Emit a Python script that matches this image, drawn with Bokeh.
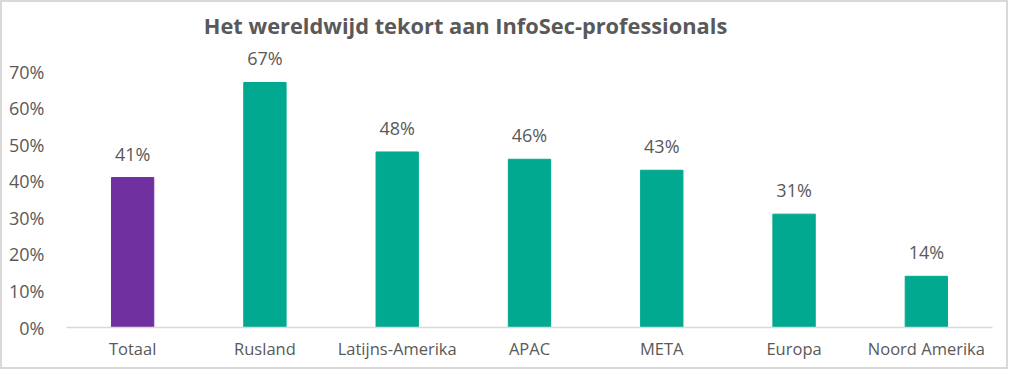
from bokeh.plotting import figure
from bokeh.models import Range1d, FixedTicker, NumeralTickFormatter, ColumnDataSource
from bokeh.core.properties import value
from bokeh.embed import file_html
from bokeh.resources import INLINE

title_text = "Het wereldwijd tekort aan InfoSec-professionals"
categories = ["Totaal", "Rusland", "Latijns-Amerika", "APAC", "META", "Europa", "Noord Amerika"]
shares = [0.41, 0.67, 0.48, 0.46, 0.43, 0.31, 0.14]
bar_colors = ["#7030A0", "#00A98F", "#00A98F", "#00A98F", "#00A98F", "#00A98F", "#00A98F"]
y_ticks = [0.0, 0.1, 0.2, 0.3, 0.4, 0.5, 0.6, 0.7]

FONT = "Open Sans"
GRAY = "#595959"

W, H = 1008, 369
px_per_unit = 256 / 0.7
frame_h = 325
y_end = frame_h / px_per_unit

xs = [i + 0.5 for i in range(len(categories))]
src = ColumnDataSource(dict(
    x=xs, top=shares, color=bar_colors,
    label=[f"{round(v*100)}%" for v in shares],
    ly=[v + 24 / px_per_unit for v in shares],
))

p = figure(width=W, height=H, output_backend="svg", toolbar_location=None,
           x_range=Range1d(0, len(categories)), y_range=Range1d(0, y_end),
           min_border_left=64, min_border_right=18, min_border_top=0, min_border_bottom=44)
p.outline_line_color = None
p.background_fill_color = "white"
p.border_fill_color = "white"
p.xgrid.visible = False
p.ygrid.visible = False
p.styles = {"border": "2px solid #d9d9d9", "box-sizing": "border-box"}

p.vbar(x="x", top="top", width=0.32, color="color", source=src)
p.text(x="x", y="ly", text="label", source=src, text_align="center", text_baseline="middle",
       text_font=value(FONT), text_font_size="18px", text_color=GRAY)

# title
title_x = (471 - 8 - 64) / (926 / len(categories))
title_y = (325 - 23) / px_per_unit
p.text(x=[title_x], y=[title_y], text=[title_text], text_align="center", text_baseline="middle",
       text_font=value(FONT), text_font_size="21.8px", text_font_style="bold", text_color=GRAY)

xa = p.xaxis[0]
xa.ticker = FixedTicker(ticks=xs)
xa.major_label_overrides = {x: c for x, c in zip(xs, categories)}
xa.axis_line_color = "#d9d9d9"
xa.axis_line_width = 1.5
xa.major_tick_line_color = None
xa.minor_tick_line_color = None
xa.major_label_standoff = 3
xa.major_label_text_font = FONT
xa.major_label_text_font_size = "16.5px"
xa.major_label_text_color = GRAY

ya = p.yaxis[0]
ya.ticker = FixedTicker(ticks=y_ticks)
ya.formatter = NumeralTickFormatter(format="0%")
ya.axis_line_color = None
ya.major_tick_line_color = None
ya.minor_tick_line_color = None
ya.major_label_standoff = 16
ya.major_label_text_font = FONT
ya.major_label_text_font_size = "18px"
ya.major_label_text_color = GRAY

open("out.html", "w").write(file_html(p, INLINE))
